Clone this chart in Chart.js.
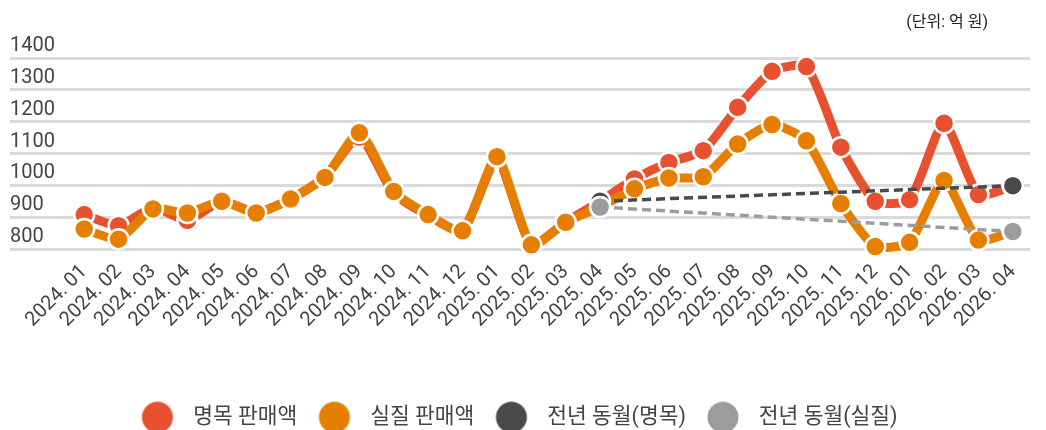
<!DOCTYPE html>
<html>
<head>
<meta charset="utf-8">
<script src="https://cdn.jsdelivr.net/npm/chart.js@4.4.1/dist/chart.umd.min.js"></script>
<style>
  html, body { margin: 0; padding: 0; background: #ffffff; }
  #wrap { width: 1046px; height: 430px; position: relative; }
</style>
</head>
<body>
<div id="wrap"><canvas id="c" width="1046" height="430"></canvas></div>
<script>
const unitText = '(단위: 억 원)';
const categories = ['2024. 01','2024. 02','2024. 03','2024. 04','2024. 05','2024. 06','2024. 07','2024. 08','2024. 09','2024. 10','2024. 11','2024. 12',
  '2025. 01','2025. 02','2025. 03','2025. 04','2025. 05','2025. 06','2025. 07','2025. 08','2025. 09','2025. 10','2025. 11','2025. 12',
  '2026. 01','2026. 02','2026. 03','2026. 04'];
const seriesNames = ['명목 판매액', '실질 판매액', '전년 동월(명목)', '전년 동월(실질)'];
const nominalSales = [908, 873, 930, 890, 950, 915, 957, 1027, 1152, 975, 905, 857, 1082, 813, 885, 950, 1020, 1072, 1109, 1245, 1358, 1373, 1120, 950, 955, 1195, 971, 997];
const realSales = [863, 831, 926, 913, 950, 913, 957, 1025, 1165, 981, 908, 857, 1090, 813, 884, 932, 989, 1023, 1027, 1130, 1191, 1140, 943, 808, 821, 1015, 828, 855];
const prevYearNominal = [null, null, null, null, null, null, null, null, null, null, null, null, null, null, null, 950, null, null, null, null, null, null, null, null, null, null, null, 999];
const prevYearReal = [null, null, null, null, null, null, null, null, null, null, null, null, null, null, null, 932, null, null, null, null, null, null, null, null, null, null, null, 855];
const yTicks = [800, 900, 1000, 1100, 1200, 1300, 1400];

const colors = ['#e85130', '#e67e00', '#494949', '#9c9c9c'];
const fontFamily = 'Roboto, "Noto Sans CJK KR", sans-serif';

function circleImage(color) {
  const cv = document.createElement('canvas');
  cv.width = 52; cv.height = 32;
  const g = cv.getContext('2d');
  g.fillStyle = color;
  g.beginPath();
  g.arc(27, 16, 15.5, 0, Math.PI * 2);
  g.fill();
  return cv;
}
const legendImages = colors.map(circleImage);

const unitPlugin = {
  id: 'unitText',
  afterLayout(chart) {
    if (chart.legend) { chart.legend.left -= 6; chart.legend.right -= 6; }
  },
  afterDraw(chart) {
    const ctx = chart.ctx;
    ctx.save();
    ctx.font = '16px ' + fontFamily;
    ctx.fillStyle = '#222222';
    ctx.textAlign = 'right';
    ctx.textBaseline = 'middle';
    ctx.fillText(unitText, 988, 23);
    ctx.restore();
  }
};

function mainLine(idx, data, order) {
  return {
    label: seriesNames[idx],
    data: data,
    borderColor: colors[idx],
    backgroundColor: colors[idx],
    pointBackgroundColor: colors[idx],
    pointBorderColor: '#ffffff',
    pointBorderWidth: 2.5,
    pointRadius: 10,
    pointHoverRadius: 10,
    borderWidth: 9,
    tension: 0.2,
    clip: false,
    order: order
  };
}
function prevLine(idx, data, order) {
  return {
    label: seriesNames[idx],
    data: data,
    borderColor: colors[idx],
    backgroundColor: colors[idx],
    pointBackgroundColor: colors[idx],
    pointBorderColor: '#ffffff',
    pointBorderWidth: 2.5,
    pointRadius: 10,
    borderWidth: 3.5,
    borderDash: [9, 5],
    spanGaps: true,
    tension: 0,
    clip: false,
    order: order
  };
}

new Chart(document.getElementById('c'), {
  type: 'line',
  data: {
    labels: categories,
    datasets: [
      mainLine(0, nominalSales, 3),
      mainLine(1, realSales, 2),
      prevLine(2, prevYearNominal, 1),
      prevLine(3, prevYearReal, 0)
    ]
  },
  plugins: [unitPlugin],
  options: {
    responsive: false,
    animation: false,
    events: [],
    layout: { padding: { left: 10, right: 16, top: 58, bottom: -8 } },
    plugins: {
      tooltip: { enabled: false },
      legend: {
        position: 'bottom',
        labels: {
          usePointStyle: true,
          pointStyleWidth: 52,
          padding: 10,
          color: '#444444',
          font: { family: fontFamily, size: 21.5 },
          generateLabels(chart) {
            const items = Chart.defaults.plugins.legend.labels.generateLabels(chart);
            items.sort((a, b) => a.datasetIndex - b.datasetIndex);
            items.forEach(it => { it.pointStyle = legendImages[it.datasetIndex]; });
            return items;
          }
        }
      }
    },
    scales: {
      x: {
        offset: true,
        grid: { display: false },
        border: { display: false },
        afterFit(scale) { scale.height = 147.5; },
        ticks: {
          autoSkip: false,
          maxRotation: 45,
          minRotation: 45,
          padding: 3,
          color: '#444444',
          font: { family: fontFamily, size: 20 }
        }
      },
      y: {
        min: 800,
        max: 1400,
        afterBuildTicks(scale) { scale.ticks = yTicks.map(v => ({ value: v })); },
        afterFit(scale) { scale.width = 57; },
        grid: { color: '#dadada', lineWidth: 3, tickLength: 57, drawTicks: true },
        border: { display: false },
        ticks: {
          crossAlign: 'far',
          labelOffset: -12,
          padding: 0,
          color: '#444444',
          font: { family: fontFamily, size: 20 },
          callback: (v) => String(v)
        }
      }
    }
  }
});
</script>
</body>
</html>
